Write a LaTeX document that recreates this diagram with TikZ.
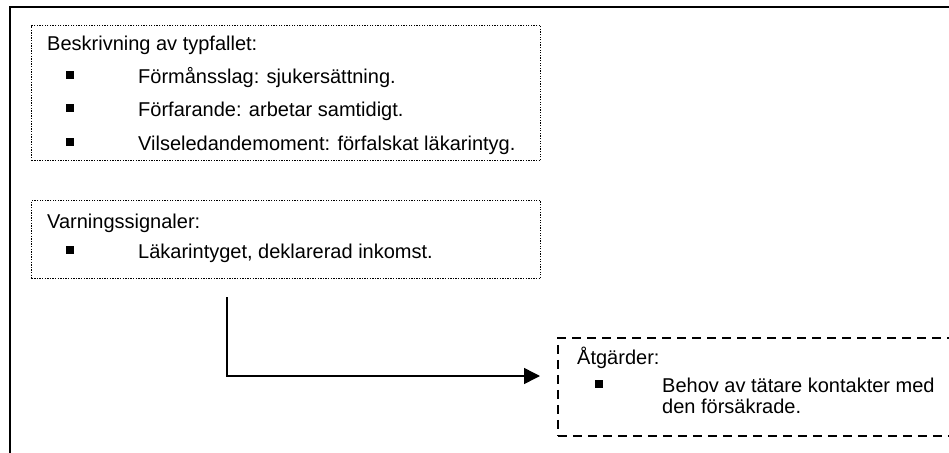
\documentclass[tikz,border=0pt]{standalone}
\usepackage{fontspec}
\setmainfont{Liberation Sans}
\usetikzlibrary{arrows.meta}
\begin{document}
\begin{tikzpicture}[x=1pt,y=-1pt,
  txt/.style={anchor=base west, inner sep=0pt, font=\fontsize{20}{24}\selectfont},
  dotbox/.style={draw, line width=1.3pt, dash pattern=on 1.3pt off 1.3pt, anchor=north west, inner sep=0pt},
  dashbox/.style={draw, line width=1.7pt, dash pattern=on 9pt off 6pt, anchor=north west, inner sep=0pt},
  bul/.style={fill=black, minimum size=8pt, inner sep=0pt},
  link/.style={line width=1.5pt, -{Triangle[length=16pt,width=16pt]}}]
\clip (0,0) rectangle (949,452);
\fill[white] (0,0) rectangle (949,452);
% outer frame, running off the right and bottom edges
\draw[line width=2.4pt] (10,470) -- (10,7) -- (970,7);

% description of the typical case
\node[dotbox, minimum width=509pt, minimum height=135pt] (desc) at (31,25) {};
\node[txt] (descH) at (47,51) {Beskrivning av typfallet:};
\node[bul] (b1) at (70,75) {};
\node[txt] (d1) at (138,83) {Förmånsslag: sjukersättning.};
\node[bul] (b2) at (70,108) {};
\node[txt] (d2) at (138,116) {Förfarande: arbetar samtidigt.};
\node[bul] (b3) at (70,142) {};
\node[txt] (d3) at (138,150) {Vilseledandemoment: förfalskat läkarintyg.};

% warning signals
\node[dotbox, minimum width=509pt, minimum height=78pt] (warn) at (31,200) {};
\node[txt] (warnH) at (47,228) {Varningssignaler:};
\node[bul] (b4) at (70,250) {};
\node[txt] (w1) at (138,258) {Läkarintyget, deklarerad inkomst.};

% measures
\node[dashbox, minimum width=420pt, minimum height=98pt] (act) at (557,337) {};
\node[txt] (actH) at (577,364) {Åtgärder:};
\node[bul] (b5) at (599,384) {};
\node[txt] (a1) at (662,392) {Behov av tätare kontakter med};
\node[txt] (a2) at (662,413) {den försäkrade.};

% connector
\coordinate (c1) at (227,297);
\coordinate (c2) at (540,376);
\draw[link] (c1) |- (c2);
\end{tikzpicture}
\end{document}
